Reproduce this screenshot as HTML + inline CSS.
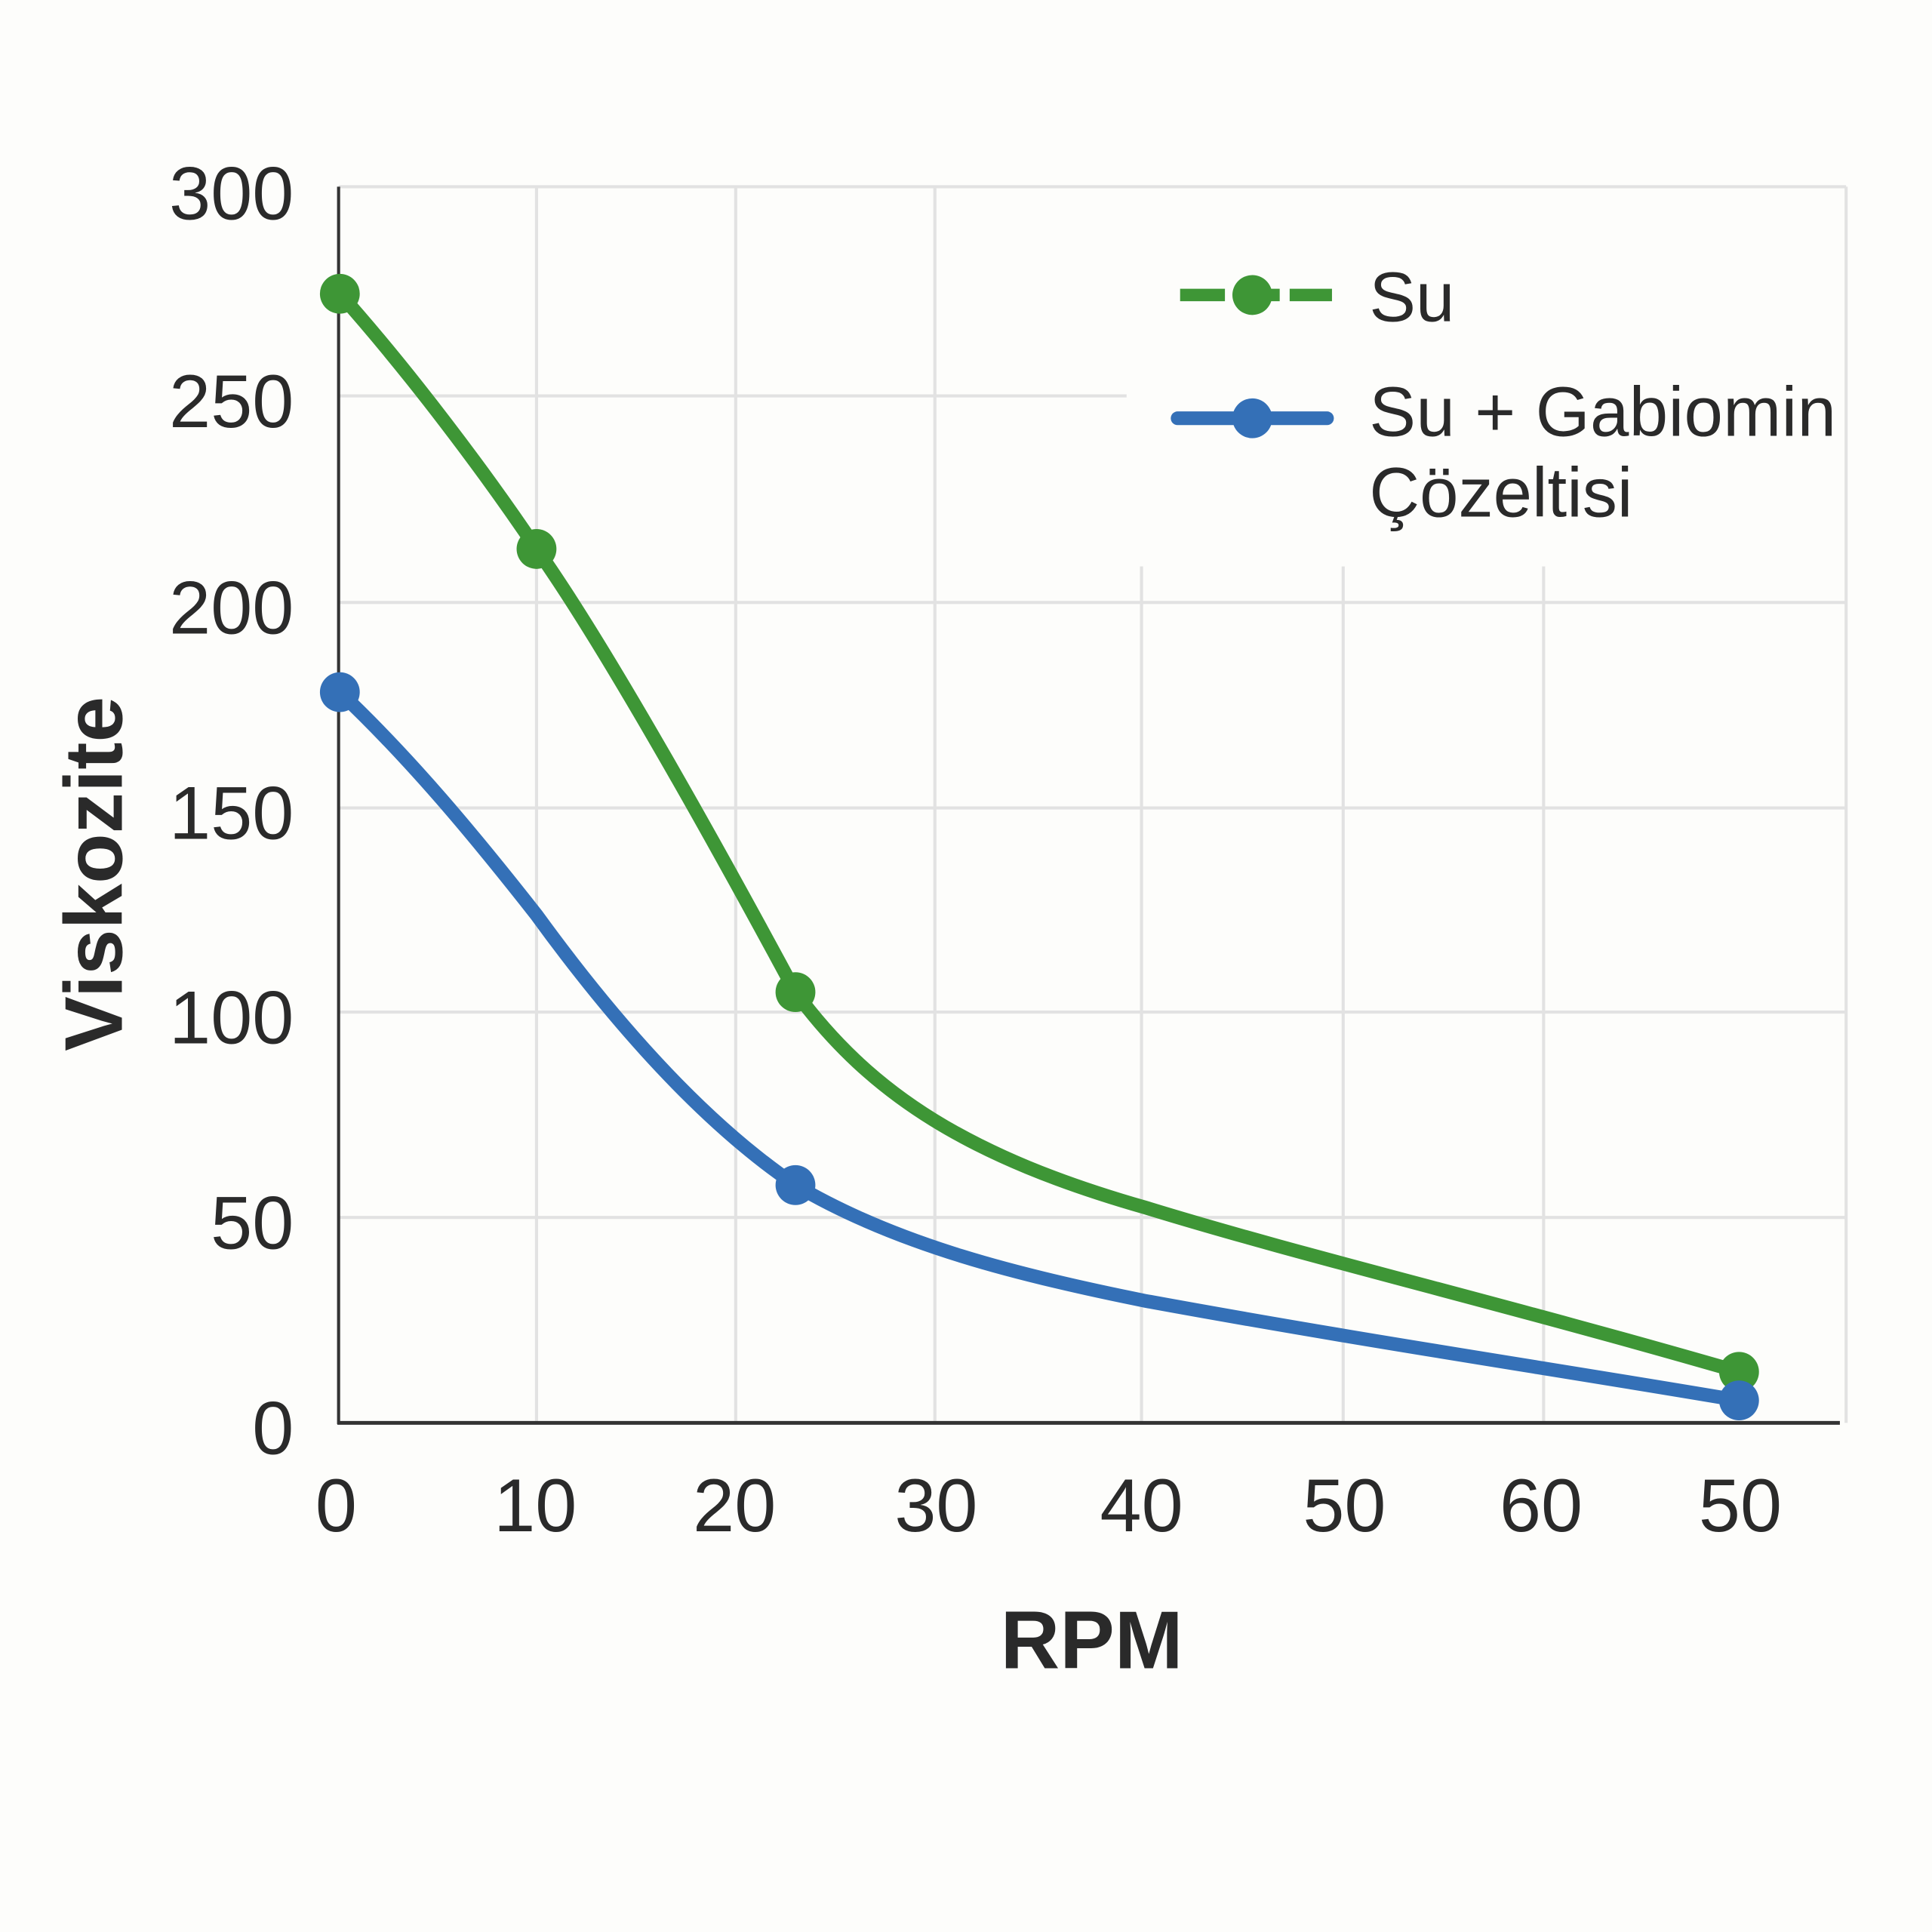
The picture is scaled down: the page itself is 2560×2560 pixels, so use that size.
<!DOCTYPE html>
<html><head><style>html,body{margin:0;padding:0;background:#fdfdfb}svg{display:block}</style></head>
<body>
<svg width="2560" height="2560" viewBox="0 0 1552 1552" xmlns="http://www.w3.org/2000/svg">
<rect width="1552" height="1552" fill="#fdfdfb"/>
<g stroke="#e2e2e2" stroke-width="2.5" fill="none">
<line x1="272" y1="150" x2="1483" y2="150"/>
<line x1="272" y1="318" x2="905" y2="318"/>
<line x1="272" y1="484" x2="1483" y2="484"/>
<line x1="272" y1="649" x2="1483" y2="649"/>
<line x1="272" y1="813" x2="1483" y2="813"/>
<line x1="272" y1="978" x2="1483" y2="978"/>
<line x1="431" y1="150" x2="431" y2="1143"/>
<line x1="591" y1="150" x2="591" y2="1143"/>
<line x1="751" y1="150" x2="751" y2="1143"/>
<line x1="917" y1="455" x2="917" y2="1143"/>
<line x1="1079" y1="455" x2="1079" y2="1143"/>
<line x1="1240" y1="455" x2="1240" y2="1143"/>
<line x1="1483" y1="150" x2="1483" y2="1143"/>
</g>
<line x1="272" y1="150" x2="272" y2="1144" stroke="#333" stroke-width="2.5"/>
<line x1="271" y1="1143" x2="1478" y2="1143" stroke="#333" stroke-width="3"/>
<path d="M273,236 C330,300 390,380 431,441 C480,510 560,650 639,797 C700,880 780,930 920,970 C1050,1010 1200,1045 1397,1102" fill="none" stroke="#3e9636" stroke-width="11" stroke-linecap="round"/>
<path d="M273,556 C330,610 380,670 431,735 C500,830 570,905 639,952 C720,1000 820,1025 920,1045 C1100,1078 1250,1100 1397,1125" fill="none" stroke="#3470b7" stroke-width="11" stroke-linecap="round"/>
<g fill="#3e9636"><circle cx="273" cy="236" r="16"/><circle cx="431" cy="441" r="16"/><circle cx="639" cy="797" r="16"/><circle cx="1397" cy="1102" r="16"/></g>
<g fill="#3470b7"><circle cx="273" cy="556" r="16"/><circle cx="639" cy="952" r="16"/><circle cx="1397" cy="1125" r="16"/></g>
<line x1="948" y1="237" x2="1070" y2="237" stroke="#3e9636" stroke-width="10" stroke-dasharray="36,8"/>
<circle cx="1006" cy="237" r="16" fill="#3e9636"/>
<line x1="946" y1="336" x2="1066" y2="336" stroke="#3470b7" stroke-width="11" stroke-linecap="round"/>
<circle cx="1006" cy="336" r="16" fill="#3470b7"/>
<g font-family="Liberation Sans, sans-serif" fill="#2a2a2a">
<text x="1100" y="258" font-size="56">Su</text>
<text x="1100" y="350" font-size="56" textLength="375">Su + Gabiomin</text>
<text x="1100" y="415" font-size="56">Çözeltisi</text>
<g font-size="60" text-anchor="end">
<text x="236" y="176">300</text><text x="236" y="343">250</text><text x="236" y="509">200</text>
<text x="236" y="674">150</text><text x="236" y="838">100</text><text x="236" y="1003">50</text><text x="236" y="1168">0</text>
</g>
<g font-size="60" text-anchor="middle">
<text x="270" y="1230">0</text><text x="430" y="1230">10</text><text x="590" y="1230">20</text><text x="752" y="1230">30</text>
<text x="917" y="1230">40</text><text x="1080" y="1230">50</text><text x="1238" y="1230">60</text><text x="1398" y="1230">50</text>
</g>
<text x="877" y="1340" font-size="66" font-weight="bold" text-anchor="middle">RPM</text>
<text transform="translate(98,702) rotate(-90)" font-size="66" font-weight="bold" text-anchor="middle">Viskozite</text>
</g>
</svg>
</body></html>
